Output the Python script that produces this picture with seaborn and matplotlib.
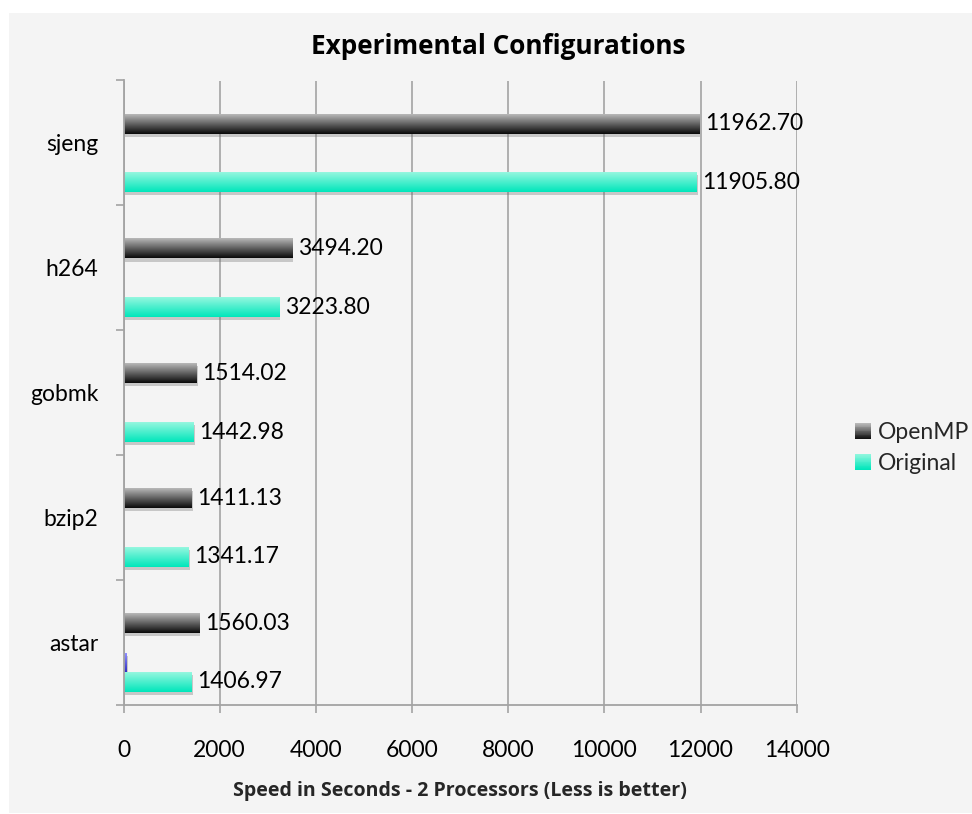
import numpy as np
import pandas as pd
import matplotlib
matplotlib.use("Agg")
import matplotlib.pyplot as plt
import seaborn as sns
from matplotlib.patches import Rectangle
from matplotlib.colors import to_rgb
from matplotlib.legend_handler import HandlerBase
from matplotlib import patheffects as pe

# ---- data -------------------------------------------------------------
categories = ["sjeng", "h264", "gobmk", "bzip2", "astar"]
openmp = [11962.70, 3494.20, 1514.02, 1411.13, 1560.03]
original = [11905.80, 3223.80, 1442.98, 1341.17, 1406.97]
stray_series = [np.nan, np.nan, np.nan, np.nan, 50.0]   # tiny unlabeled bar at astar
series_names = ["OpenMP", "Stray", "Original"]
x_ticks = [0, 2000, 4000, 6000, 8000, 10000, 12000, 14000]

title = "Experimental Configurations"
x_label = "Speed in Seconds - 2 Processors (Less is better)"

# ---- styling ----------------------------------------------------------
sns.set_theme(style="white")
plt.rcParams["font.family"] = ["Lato", "DejaVu Sans"]
BOLD_FAMILY = ["Open Sans", "DejaVu Sans"]

BG = "#f4f4f4"
AXIS_GRAY = "#a3a3a3"
gradients = {
    "OpenMP": ("#b8b8b8", "#0a0a0a"),
    "Stray": ("#9090ff", "#2a2ac0"),
    "Original": ("#95f7df", "#00e6bb"),
}
offsets = {"OpenMP": -0.155, "Stray": 0.16, "Original": 0.315}
bar_h = 0.16
FS = 16.5

df = pd.concat([
    pd.DataFrame({"cat": categories, "value": vals, "series": name})
    for name, vals in zip(series_names, [openmp, stray_series, original])
]).dropna()

fig = plt.figure(figsize=(9.72, 8.14), dpi=100, facecolor="white")
fig.patches.append(Rectangle((9 / 972, 1 - 813 / 814), (972 - 9) / 972, (813 - 13) / 814,
                             transform=fig.transFigure, facecolor=BG, edgecolor="none", zorder=-10))
ax = fig.add_axes([123.5 / 972, 1 - 705 / 814, (796.7 - 123.5) / 972, (705 - 80.5) / 814])
ax.set_facecolor(BG)

sns.barplot(data=df, y="cat", x="value", hue="series", order=categories,
            hue_order=series_names, orient="h", dodge=True, errorbar=None,
            legend=False, ax=ax)

# reposition bars and paint vertical gradients (light on top, dark at the base)
for name, container in zip(series_names, ax.containers):
    top, bot = gradients[name]
    c0, c1 = np.array(to_rgb(top)), np.array(to_rgb(bot))
    t = np.linspace(0, 1, 64)[:, None]
    grad = (c0 * (1 - t) + c1 * t)[:, None, :]
    for patch in container.patches:
        ci = int(round(patch.get_y() + patch.get_height() / 2))
        y0 = ci + offsets[name] - bar_h / 2
        patch.set_y(y0)
        patch.set_height(bar_h)
        patch.set_facecolor("none")
        patch.set_edgecolor("none")
        patch.set_zorder(2)
        patch.set_path_effects([
            pe.SimplePatchShadow(offset=(1.2, -2.2), shadow_rgbFace="0.45", alpha=0.35),
            pe.Normal(),
        ])
        w = patch.get_width()
        ax.imshow(grad, extent=(0, w, y0 + bar_h, y0), aspect="auto",
                  interpolation="bilinear", zorder=3, origin="upper")

# value labels
for name, vals in [("OpenMP", openmp), ("Original", original)]:
    for ci, v in enumerate(vals):
        ax.annotate(f"{v:.2f}", xy=(v, ci + offsets[name]), xytext=(4.5, 0),
                    textcoords="offset points", ha="left", va="center",
                    fontsize=FS, color="black", zorder=5, annotation_clip=False)

ax.set_xlim(0, 14000)
ax.set_ylim(len(categories) - 0.5, -0.5)
ax.set_xticks(x_ticks)
ax.set_xticklabels([str(v) for v in x_ticks], fontsize=FS, color="black")
ax.set_yticks(range(len(categories)))
ax.set_yticklabels(categories, fontsize=FS, color="black")
ax.set_yticks(np.arange(-0.5, len(categories), 1.0), minor=True)
ax.tick_params(axis="y", which="major", length=0, pad=18)
ax.tick_params(axis="y", which="minor", length=5.8, width=1.2, color=AXIS_GRAY, direction="out", left=True)
ax.tick_params(axis="x", which="major", length=5.8, width=1.2, color=AXIS_GRAY, direction="out",
               bottom=True, pad=19.5)
ax.set_xlabel(x_label, fontsize=14.1, fontweight="bold", family=BOLD_FAMILY, labelpad=14.5)
ax.set_ylabel("")
ax.grid(axis="x", color=AXIS_GRAY, linewidth=1.2, zorder=0)
ax.set_axisbelow(True)
for s in ["top", "right"]:
    ax.spines[s].set_visible(False)
for s in ["left", "bottom"]:
    ax.spines[s].set_color(AXIS_GRAY)
    ax.spines[s].set_linewidth(1.3)
    ax.spines[s].set_zorder(4)

fig.text(498 / 972, 1 - 47 / 814, title, ha="center", va="center",
         fontsize=18.8, fontweight="bold", family=BOLD_FAMILY, color="black")


class GradientHandler(HandlerBase):
    def __init__(self, top, bottom, n=20):
        super().__init__()
        self.top, self.bottom, self.n = top, bottom, n

    def create_artists(self, legend, orig_handle, xdescent, ydescent, width, height, fontsize, trans):
        c0, c1 = np.array(to_rgb(self.top)), np.array(to_rgb(self.bottom))
        arts = []
        for i in range(self.n):
            f = i / (self.n - 1)
            y = -ydescent + height * (1 - (i + 1) / self.n)
            arts.append(Rectangle((-xdescent, y), width, height / self.n * 1.05,
                                  facecolor=c0 * (1 - f) + c1 * f, edgecolor="none", transform=trans))
        return arts


h_open = Rectangle((0, 0), 1, 1)
h_orig = Rectangle((0, 0), 1, 1)
fig.legend([h_open, h_orig], ["OpenMP", "Original"],
           handler_map={h_open: GradientHandler(*gradients["OpenMP"]),
                        h_orig: GradientHandler(*gradients["Original"])},
           loc="center left", bbox_to_anchor=(855 / 972, 1 - 448 / 814),
           frameon=False, fontsize=FS, handlelength=0.7, handleheight=0.7,
           handletextpad=0.3, labelspacing=0.4, borderpad=0, borderaxespad=0)

fig.savefig("out.png", dpi=100, facecolor="white")
